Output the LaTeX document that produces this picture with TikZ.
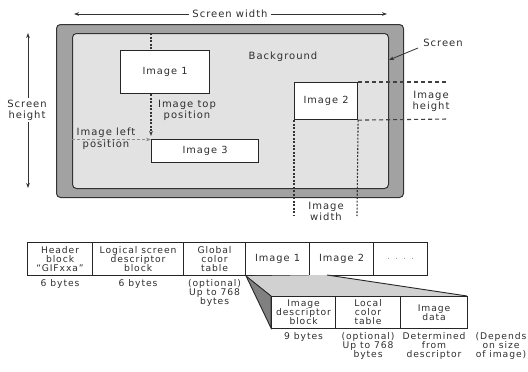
\documentclass[tikz,border=0pt]{standalone}
\usepackage{fontspec}
\setmainfont{DejaVu Sans}[LetterSpace=10]
\usetikzlibrary{arrows.meta,calc}
\definecolor{scrgray}{HTML}{A2A2A2}
\definecolor{bggray}{HTML}{E2E2E2}
\definecolor{txtgray}{HTML}{2E2E2E}
\begin{document}
\begin{tikzpicture}[x=1pt,y=-1pt,
  every node/.style={text=txtgray},
  lbl/.style={font=\fontsize{10}{11}\selectfont, align=center, inner sep=0pt},
  tlbl/.style={font=\fontsize{9.2}{9}\selectfont, align=center, inner sep=0pt, anchor=north},
  imgbox/.style={draw=black!85, line width=1.1pt, fill=white, anchor=north west, inner sep=0pt, font=\fontsize{9.8}{11}\selectfont},
  cell/.style={draw=black!85, line width=1.1pt, fill=white, anchor=north west, inner sep=0pt, align=center, font=\fontsize{9.2}{9}\selectfont},
  tip/.style={-{Stealth[length=5pt,width=3.6pt]}},
  dimline/.style={black!80, line width=0.8pt, tip},
  dotline/.style={black!80, line width=1.1pt, dash pattern=on 2pt off 1.5pt},
  dashline/.style={black!75, line width=1.1pt, dash pattern=on 4pt off 3pt}
]
\useasboundingbox (0,0) rectangle (528,372);

% screen
\node[draw=black!80, line width=1pt, fill=scrgray, rounded corners=4pt, minimum width=347pt, minimum height=173pt, anchor=north west, inner sep=0pt] (scr) at (56,24) {};
\node[draw=black!80, line width=1pt, fill=bggray, rounded corners=4pt, minimum width=316pt, minimum height=155pt, anchor=north west, inner sep=0pt] (bg) at (72,33) {};

\node[lbl] (bgl) at (283,57) {Background};

% images
\node[imgbox, minimum width=89pt, minimum height=43pt] (im1) at (120,50) {Image 1};
\node[imgbox, minimum width=107pt, minimum height=23pt] (im3) at (151,139) {Image 3};
\node[imgbox, minimum width=63pt, minimum height=37pt] (im2) at (294,82) {Image 2};

% screen width
\node[lbl, fill=white, inner xsep=3pt] (sw) at (230,14) {Screen width};
\coordinate (swl) at (74,14);
\coordinate (swr) at (387,14);
\draw[dimline] (sw.west) -- (swl);
\draw[dimline] (sw.east) -- (swr);

% screen height
\node[lbl, fill=white, inner ysep=2pt] (sh) at (27,110) {Screen\\height};
\coordinate (sht) at (28,33);
\coordinate (shb) at (28,188);
\draw[dimline] (sh.north -| sht) -- (sht);
\draw[dimline] (sh.south -| shb) -- (shb);

% screen label
\node[lbl] (scl) at (443,43) {Screen};
\coordinate (scp) at (389,60);
\draw[dimline] (418,48) -- (scp);

% image top position
\coordinate (itop) at (151,33);
\coordinate (itopend) at (151,136);
\draw[dotline] (itop) -- (im1.north -| itop);
\draw[dotline, tip] (im1.south -| itop) -- (itopend);
\node[lbl] (itp) at (187,110) {Image top\\position};

% image left position
\coordinate (ilp) at (72,139.5);
\draw[black!45, line width=1.2pt, dash pattern=on 3pt off 2pt, tip] (ilp) -- (im3.north west |- ilp);
\node[lbl] (ilt) at (106,133) {Image left};
\node[lbl] (ilb) at (106,145) {position};

% image 2 dims
\coordinate (ihr1) at (449,82);
\coordinate (ihr2) at (449,119);
\draw[dashline] (im2.north east) -- (ihr1);
\draw[dashline] (im2.south east) -- (ihr2);
\node[lbl] (ih) at (431,101) {Image\\height};
\coordinate (iwl) at (294,216);
\coordinate (iwr) at (357,216);
\draw[dotline] (im2.south west) -- (iwl);
\draw[dotline] (im2.south east) -- (iwr);
\node[lbl] (iw) at (326,211) {Image\\width};

% GIF file layout row 1
\node[cell, minimum width=65pt, minimum height=33pt] (hd) at (27,242) {Header\\block\\``GIFxxa''};
\node[cell, minimum width=91pt, minimum height=33pt] (ls) at (92,242) {Logical screen\\descriptor\\block};
\node[cell, minimum width=62pt, minimum height=33pt] (gc) at (183,242) {Global\\color\\table};
\node[cell, minimum width=64pt, minimum height=33pt, font=\fontsize{9.8}{11}\selectfont] (r1) at (245,242) {Image 1};
\node[cell, minimum width=64pt, minimum height=33pt, font=\fontsize{9.8}{11}\selectfont] (r2) at (309,242) {Image 2};
\node[cell, minimum width=54pt, minimum height=33pt, text=black!40] (rd) at (373,242) {. . . .};

\node[tlbl] (hdb) at (hd.south |- 0,279) {6 bytes};
\node[tlbl] (lsb) at (ls.south |- 0,279) {6 bytes};
\node[tlbl] (gcb) at (gc.south |- 0,279) {(optional)\\Up to 768\\bytes};

% expansion
\coordinate (ex) at (327,275);
\coordinate (e1) at (271,296);
\coordinate (e2) at (467,296);
\fill[black!18] (gc.south east) -- (ex) -- (e2) -- (e1) -- cycle;
\draw[black!85, line width=0.9pt] (ex) -- (e2);
\draw[black!85, line width=0.9pt, fill=black!50] (gc.south east) -- (e1) -- (271,328) -- cycle;

% row 2
\node[cell, minimum width=64pt, minimum height=32pt] (d1) at (271,296) {Image\\descriptor\\block};
\node[cell, minimum width=65pt, minimum height=32pt] (d2) at (335,296) {Local\\color\\table};
\node[cell, minimum width=67pt, minimum height=32pt] (d3) at (400,296) {Image\\data};

\node[tlbl] (d1b) at (d1.south |- 0,332) {9 bytes};
\node[tlbl] (d2b) at (d2.south |- 0,332) {(optional)\\Up to 768\\bytes};
\node[tlbl] (d3b) at (d3.south |- 0,332) {Determined\\from\\descriptor};
\node[tlbl] (d4b) at (501,332) {(Depends\\on size\\of image)};
\end{tikzpicture}
\end{document}
